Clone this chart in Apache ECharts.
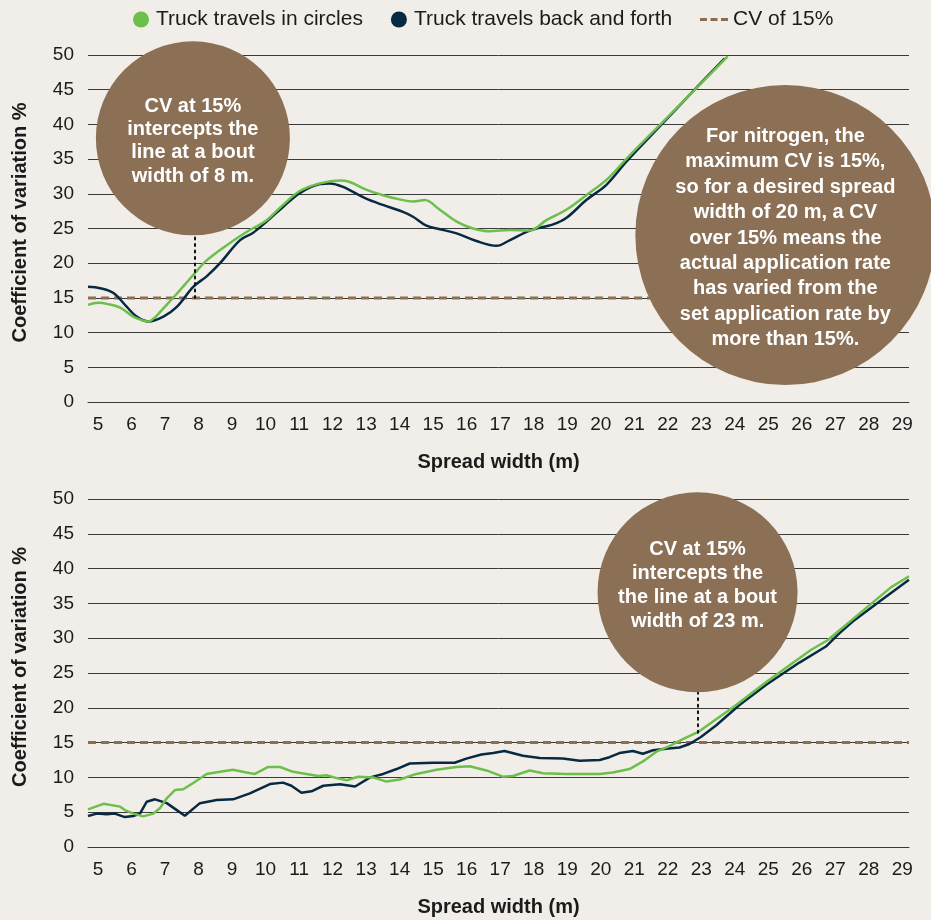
<!DOCTYPE html>
<html>
<head>
<meta charset="utf-8">
<script src="https://cdn.jsdelivr.net/npm/echarts@6/dist/echarts.min.js"></script>
<style>
html,body{margin:0;padding:0;background:#f1eee9;}
#chart{width:931px;height:920px;}
</style>
</head>
<body>
<div id="chart"></div>
<script>
// ---- Data ----
const xTickLabels = [5,6,7,8,9,10,11,12,13,14,15,16,17,18,19,20,21,22,23,24,25,26,27,28,29];
const xRange = [4.7, 29.2];
const cvThreshold = 15;

// Top chart: [spread width m, CV %]
const topCircles = [[4.7,14.0],[5.0,14.3],[5.3,14.1],[5.66,13.6],[6.05,12.3],[6.3,11.8],[6.5,11.6],[6.7,12.2],[6.95,13.5],[7.35,15.6],[7.84,18.3],[8.24,20.4],[8.84,22.6],[9.43,24.5],[10.03,26.2],[10.52,28.4],[11.02,30.4],[11.62,31.5],[12.22,31.9],[12.51,31.7],[13.0,30.6],[13.5,29.8],[14.0,29.2],[14.4,28.9],[14.75,29.1],[15.2,27.7],[15.7,26.0],[16.19,25.0],[16.69,24.6],[17.28,24.8],[17.88,24.7],[18.38,26.2],[18.97,27.7],[19.57,29.8],[20.17,32.0],[20.76,35.0],[21.76,39.9],[22.85,45.2],[23.79,49.8]];
const topBackForth = [[4.7,16.6],[5.06,16.4],[5.46,15.7],[5.86,13.7],[6.15,12.3],[6.5,11.6],[6.95,12.3],[7.35,13.7],[7.84,16.6],[8.24,18.1],[8.64,20.0],[9.23,23.3],[9.63,24.4],[10.03,26.0],[10.52,28.1],[11.02,30.1],[11.62,31.4],[11.92,31.5],[12.31,31.0],[13.0,29.3],[13.5,28.4],[14.1,27.4],[14.4,26.7],[14.8,25.4],[15.2,24.9],[15.7,24.3],[16.29,23.2],[16.89,22.5],[17.28,23.3],[17.88,24.7],[18.58,25.6],[18.97,26.5],[19.57,29.1],[20.17,31.3],[20.76,34.6],[21.76,39.7],[22.8,45.0],[23.7,49.5]];

// Bottom chart
const bottomCircles = [[4.7,5.4],[5.16,6.2],[5.66,5.8],[5.8,5.3],[6.05,4.8],[6.35,4.4],[6.65,4.8],[6.85,5.6],[7.05,7.0],[7.3,8.2],[7.54,8.3],[7.84,9.2],[8.24,10.5],[8.64,10.8],[9.03,11.1],[9.43,10.7],[9.68,10.5],[10.08,11.5],[10.43,11.5],[10.82,10.8],[11.22,10.5],[11.57,10.2],[11.82,10.3],[12.12,9.9],[12.42,9.6],[12.76,10.1],[13.21,10.0],[13.61,9.4],[14.0,9.7],[14.5,10.5],[15.1,11.1],[15.69,11.5],[16.09,11.6],[16.59,11.0],[17.08,10.1],[17.38,10.2],[17.88,11.0],[18.28,10.6],[18.97,10.5],[19.97,10.5],[20.36,10.7],[20.86,11.2],[21.26,12.3],[21.66,13.7],[22.05,14.5],[22.45,15.5],[22.9,16.5],[23.98,20.2],[24.97,23.8],[26.27,28.3],[26.77,29.7],[27.96,34.5],[28.66,37.3],[29.2,38.9]];
const bottomBackForth = [[4.7,4.45],[4.96,4.8],[5.26,4.7],[5.5,4.8],[5.8,4.3],[6.05,4.45],[6.25,4.8],[6.45,6.5],[6.7,6.85],[7.05,6.3],[7.35,5.3],[7.59,4.5],[8.04,6.3],[8.54,6.75],[9.03,6.85],[9.53,7.7],[10.13,9.05],[10.52,9.25],[10.77,8.8],[11.07,7.8],[11.37,8.0],[11.72,8.8],[12.22,9.0],[12.67,8.7],[13.12,10.0],[13.51,10.5],[13.91,11.2],[14.3,12.0],[15.0,12.1],[15.64,12.1],[15.99,12.7],[16.44,13.3],[16.79,13.5],[17.13,13.8],[17.68,13.1],[18.18,12.8],[18.87,12.7],[19.37,12.4],[19.97,12.5],[20.26,12.9],[20.56,13.5],[20.96,13.8],[21.26,13.4],[21.56,13.9],[21.95,14.1],[22.35,14.3],[22.65,14.8],[22.99,15.8],[23.45,17.5],[24.14,20.4],[24.94,23.3],[25.93,26.5],[26.72,28.8],[27.12,30.7],[27.52,32.4],[28.41,35.6],[29.2,38.4]];

// Annotations (anchored in data coordinates)
const noteTopLeft = {coord:[7.83, 38.0], text:'CV at 15%\nintercepts the\nline at a bout\nwidth of 8 m.'};
const noteTopRight = {coord:[25.51, 24.06], text:'For nitrogen, the\nmaximum CV is 15%,\nso for a desired spread\nwidth of 20 m, a CV\nover 15% means the\nactual application rate\nhas varied from the\nset application rate by\nmore than 15%.'};
const noteBottom = {coord:[22.89, 36.6], text:'CV at 15%\nintercepts the\nthe line at a bout\nwidth of 23 m.'};
const dropTop = [[7.89, 15], [7.89, 24]];
const dropBottom = [[22.89, 16.4], [22.89, 22.3]];

const seriesNames = ['Truck travels in circles','Truck travels back and forth','CV of 15%'];

// ---- Styling ----
const FONT = 'Liberation Sans, Arial, sans-serif';
const GREEN = '#6cbf4a', NAVY = '#072a42', BROWN = '#8a6e52', TEXT = '#1b1b1b', GRIDC = '#3a3a3a';

const chart = echarts.init(document.getElementById('chart'), null, {renderer:'canvas'});

function xAxisCfg(gi){
  return {
    type:'value', gridIndex:gi, min:xRange[0], max:xRange[1],
    name:'Spread width (m)', nameLocation:'middle', nameGap:50,
    nameTextStyle:{fontFamily:FONT, fontSize:20, fontWeight:'bold', color:TEXT},
    axisLine:{show:true, lineStyle:{color:GRIDC, width:1}},
    axisTick:{show:false},
    splitLine:{show:false},
    axisLabel:{customValues:xTickLabels, fontFamily:FONT, fontSize:19, color:TEXT, margin:13}
  };
}
function yAxisCfg(gi){
  return {
    type:'value', gridIndex:gi, min:0, max:50, interval:5,
    name:'Coefficient of variation %', nameLocation:'middle', nameGap:58,
    nameTextStyle:{fontFamily:FONT, fontSize:20, fontWeight:'bold', color:TEXT, padding:[0,0,0,12]},
    axisLine:{show:false}, axisTick:{show:false},
    splitLine:{show:true, lineStyle:{color:GRIDC, width:1}},
    axisLabel:{fontFamily:FONT, fontSize:19, color:TEXT, margin:14}
  };
}
function note(n, size, lh, offY){
  return {
    coord:n.coord, symbol:'circle', symbolSize:size,
    itemStyle:{color:'#8b7055'},
    label:{show:true, position:'inside', formatter:n.text, color:'#ffffff',
      fontFamily:FONT, fontSize:20, fontWeight:'bold', lineHeight:lh, align:'center', offset:[0,offY||0]}
  };
}
function dotted(seg){
  return [{coord:seg[0]},{coord:seg[1]}];
}

const dashIcon = 'path://M0,0h7v3h-7z M10.5,0h7v3h-7z M21,0h7v3h-7z';

const option = {
  backgroundColor:'#f1eee9',
  animation:false,
  legend:[
    {data:[seriesNames[0], seriesNames[1]], left:133, top:9, padding:0, icon:'circle',
      itemWidth:16, itemHeight:16, itemGap:28,
      textStyle:{fontFamily:FONT, fontSize:21, color:TEXT, padding:[0,0,0,2]}},
    {data:[{name:seriesNames[2], icon:dashIcon}], left:700, top:9, padding:0, itemWidth:28, itemHeight:3,
      textStyle:{fontFamily:FONT, fontSize:21, color:TEXT}}
  ],
  grid:[
    {left:88, right:22, top:55, height:347},
    {left:88, right:22, top:499, height:348}
  ],
  xAxis:[xAxisCfg(0), xAxisCfg(1)],
  yAxis:[yAxisCfg(0), yAxisCfg(1)],
  series:[
    {name:seriesNames[2], type:'line', xAxisIndex:0, yAxisIndex:0, symbol:'none',
      data:[[xRange[0],cvThreshold],[xRange[1],cvThreshold]],
      lineStyle:{color:BROWN, width:3, type:[8,5]}, itemStyle:{color:BROWN}, z:3},
    {name:seriesNames[0], type:'line', xAxisIndex:0, yAxisIndex:0, symbol:'none', smooth:0.35,
      data:topCircles, lineStyle:{color:GREEN, width:2.5}, itemStyle:{color:GREEN}, z:4},
    {name:seriesNames[1], type:'line', xAxisIndex:0, yAxisIndex:0, symbol:'none', smooth:0.35,
      data:topBackForth, lineStyle:{color:NAVY, width:2.5}, itemStyle:{color:NAVY}, z:3,
      markLine:{silent:true, symbol:'none', label:{show:false}, z:5,
        lineStyle:{color:'#111', width:2, type:[2,4.5], cap:'round'},
        data:[dotted(dropTop)]},
      markPoint:{silent:true, z:6, data:[note(noteTopLeft,194,23.4,3), note(noteTopRight,300,25.4,3)]}},

    {name:seriesNames[2], type:'line', xAxisIndex:1, yAxisIndex:1, symbol:'none',
      data:[[xRange[0],cvThreshold],[xRange[1],cvThreshold]],
      lineStyle:{color:BROWN, width:3, type:[8,5]}, itemStyle:{color:BROWN}, z:3},
    {name:seriesNames[1], type:'line', xAxisIndex:1, yAxisIndex:1, symbol:'none',
      data:bottomBackForth, lineStyle:{color:NAVY, width:2.5}, itemStyle:{color:NAVY}, z:3,
      markLine:{silent:true, symbol:'none', label:{show:false}, z:5,
        lineStyle:{color:'#111', width:2, type:[2,4.5], cap:'round'},
        data:[dotted(dropBottom)]},
      markPoint:{silent:true, z:6, data:[note(noteBottom,200,24,-7)]}},
    {name:seriesNames[0], type:'line', xAxisIndex:1, yAxisIndex:1, symbol:'none',
      data:bottomCircles, lineStyle:{color:GREEN, width:2.5}, itemStyle:{color:GREEN}, z:4}
  ]
};
chart.setOption(option);
</script>
</body>
</html>
